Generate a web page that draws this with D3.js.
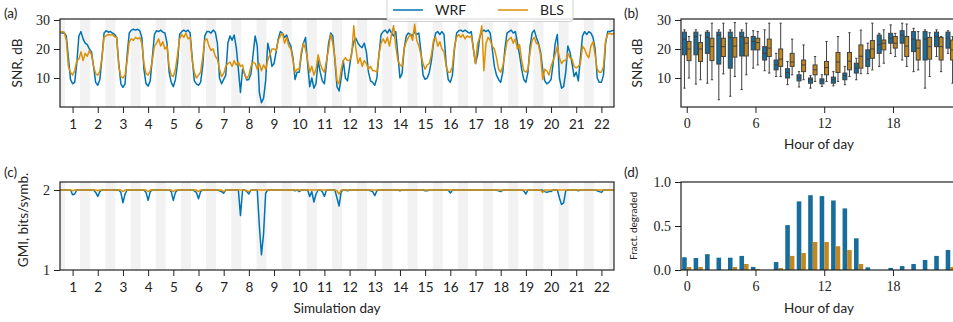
<!DOCTYPE html>
<html>
<head>
<meta charset="utf-8">
<script src="https://cdn.jsdelivr.net/npm/d3@7"></script>
<style>
  body { margin: 0; background: #fff; }
  svg text { font-family: Lato, "DejaVu Sans", sans-serif; fill: #222; }
  .serif text { font-family: "Liberation Serif", "DejaVu Serif", serif; }
</style>
</head>
<body>
<svg id="fig" width="953" height="322"></svg>
<script>
// ---- data -------------------------------------------------------------
// SNR time series, one value every 2 h starting at day 0.5 (tick = noon)
const tStart = 0.5;
const tStep = 1 / 12;

const snrWrf = [
  25.8, 25.5, 25.6, 24.5, 17, 9.5,
  8, 8.5, 15, 24.5, 26, 23.5, 22, 21.5, 20, 19, 14, 8.5,
  7.5, 9.5, 17, 25.5, 26.3, 25.8, 26, 25.5, 25, 24, 15, 8,
  6.8, 8, 18, 25.5, 26.5, 26.8, 26.5, 26.8, 26.3, 24, 13, 8,
  7.2, 9, 17, 25, 26.3, 26, 26.5, 25.8, 25.5, 22, 12, 8.5,
  7, 9.5, 15, 25, 26, 26.5, 26, 26.5, 25.5, 17, 9, 8,
  7.5, 8.5, 14, 24.5, 26, 26, 25.5, 26.5, 25.8, 22, 10, 8,
  9.5, 11, 22, 24.5, 23, 24.8, 20.5, 13, 5, 13, 11.5, 9.3,
  9.5, 11.5, 18, 24.5, 21, 5, 1.5, 3, 9, 22, 19, 14,
  15, 19, 23.5, 26, 25.5, 24, 24.8, 22.5, 21, 17, 9.5, 12,
  12, 18, 22, 24, 15, 7, 10, 6.5, 8, 16, 12, 9,
  8, 15, 22, 25.5, 24.5, 16, 7, 5.5, 10, 16, 10, 9,
  14, 19, 22.5, 23.7, 22, 21, 20.5, 22, 19, 12, 9, 8.5,
  7.5, 10, 18, 25, 26, 26.5, 25.5, 26.8, 25.5, 24.5, 26, 18,
  10, 11.5, 20, 24.5, 25.5, 25, 24.5, 26, 25, 25.5, 19, 11,
  9.5, 10, 12, 16, 22, 25.5, 26, 25, 26, 25, 15, 9.5,
  8.5, 11, 20, 25.5, 26.3, 26.5, 26, 26.5, 26, 25.5, 26, 20,
  15, 18, 24, 26, 26.5, 26, 26.5, 25.5, 20, 14, 11, 9.5,
  8.5, 12, 20, 25.5, 26, 26.5, 25.5, 26, 22, 18, 13, 9.5,
  8.5, 12, 21, 25.5, 26.5, 24, 22, 19, 13, 9, 8, 8.5,
  9.5, 15, 22, 25, 10, 6.5, 7, 12, 21, 19, 15, 10.5,
  12, 9, 17, 24.5, 26, 25, 26, 25.5, 24, 20, 10, 8.5,
  8.5, 11, 22, 26, 26, 26.3, 26.5
];

const snrBls = [
  25.6, 26, 25.8, 23, 14, 12,
  11, 12.5, 16, 16.5, 19, 16, 18.5, 17.5, 19.5, 18, 14, 11.5,
  11, 12.5, 17, 24, 24.5, 25, 24.8, 25, 24.2, 24, 14, 10.5,
  10, 11, 16, 22.5, 23.5, 23, 24, 23.5, 24, 22, 15, 11.5,
  11, 12.5, 16, 21, 22, 23.5, 21, 22.5, 20, 21, 14, 11,
  10.5, 13, 18, 23.5, 25, 24, 25.5, 23.5, 24, 16, 12, 10,
  11, 12, 17, 23, 23.5, 21, 19.5, 20, 17.5, 16.5, 13, 10.5,
  11.5, 14, 15, 15.5, 14, 16, 14.5, 15.5, 14, 14.5, 11, 9.8,
  11, 14, 15.5, 15, 13, 15, 12.5, 14.5, 13, 16, 18, 20,
  20, 19.5, 23, 24.5, 25.5, 22, 24, 21, 20, 16, 12, 13,
  13, 19, 22, 20, 16, 12, 14, 11, 13, 18, 15, 13,
  12, 16, 20, 25, 22, 17, 9, 8, 13, 16, 17, 16,
  16, 18, 28, 20, 15, 17, 14, 16, 15, 13, 14, 12.5,
  12.5, 12, 18, 22, 23.5, 22, 24, 21, 25, 28, 21, 16,
  14.5, 14, 20, 22.5, 24, 25, 23, 28.5, 23, 21, 18, 15,
  13, 14.5, 15, 18, 23, 24, 21, 22.5, 20, 19, 14, 12,
  12, 14, 21, 24, 25, 24, 25, 23.5, 24.5, 24, 24.5, 20,
  15, 22, 24, 28, 12.5, 22, 24, 23, 21, 20, 17, 13,
  12, 14, 18, 22.5, 23.5, 24, 22, 23.5, 20, 21.5, 16, 12.5,
  12, 13, 19, 23, 24, 22, 21.5, 18, 9.5, 13, 12.5, 11,
  14, 16, 18, 21, 17, 15, 16, 16, 18.5, 17, 16.5, 14,
  13.5, 14, 15, 21, 20, 18, 17, 21, 22.5, 18, 13, 12,
  12, 14, 23, 25, 25.5, 25, 25.5
];

// GMI, same time grid
const gmiWrf = [
  2, 2, 2, 2, 2, 2,
  1.94, 1.95, 2, 2, 2, 2, 2, 2, 2, 2, 2, 1.97,
  1.92, 1.98, 2, 2, 2, 2, 2, 2, 2, 2, 2, 1.97,
  1.84, 1.95, 2, 2, 2, 2, 2, 2, 2, 2, 2, 1.97,
  1.87, 1.98, 2, 2, 2, 2, 2, 2, 2, 2, 2, 1.98,
  1.87, 1.97, 2, 2, 2, 2, 2, 2, 2, 2, 1.99, 1.97,
  1.89, 1.98, 2, 2, 2, 2, 2, 2, 2, 2, 1.99, 1.98,
  1.96, 2, 2, 2, 2, 2, 2, 2, 1.68, 2, 2, 1.98,
  1.95, 2, 2, 2, 2, 1.55, 1.19, 1.45, 1.96, 2, 2, 2,
  2, 2, 2, 2, 2, 2, 2, 2, 2, 2, 1.99, 2,
  1.98, 2, 2, 2, 2, 1.92, 1.98, 1.85, 1.95, 2, 2, 1.98,
  1.92, 2, 2, 2, 2, 2, 1.9, 1.8, 1.98, 2, 2, 1.99,
  2, 2, 2, 2, 2, 2, 2, 2, 2, 2, 1.99, 1.98,
  1.93, 1.99, 2, 2, 2, 2, 2, 2, 2, 2, 2, 2,
  1.99, 2, 2, 2, 2, 2, 2, 2, 2, 2, 2, 2,
  1.99, 1.99, 2, 2, 2, 2, 2, 2, 2, 2, 2, 2,
  1.96, 2, 2, 2, 2, 2, 2, 2, 2, 2, 2, 2,
  2, 2, 2, 2, 2, 2, 2, 2, 2, 2, 2, 1.99,
  1.98, 2, 2, 2, 2, 2, 2, 2, 2, 2, 2, 1.99,
  1.95, 2, 2, 2, 2, 2, 2, 2, 2, 1.98, 1.97, 1.98,
  1.98, 2, 2, 2, 1.9, 1.82, 1.84, 1.99, 2, 2, 2, 2,
  2, 1.99, 2, 2, 2, 2, 2, 2, 2, 2, 1.99, 1.98,
  1.97, 2, 2, 2, 2, 2, 2
];

const gmiBls = [
  2, 2, 2, 2, 2, 2,
  1.99, 2, 2, 2, 2, 2, 2, 2, 2, 2, 2, 2,
  1.99, 2, 2, 2, 2, 2, 2, 2, 2, 2, 2, 2,
  1.98, 2, 2, 2, 2, 2, 2, 2, 2, 2, 2, 2,
  1.98, 2, 2, 2, 2, 2, 2, 2, 2, 2, 2, 2,
  1.98, 2, 2, 2, 2, 2, 2, 2, 2, 2, 2, 2,
  1.98, 2, 2, 2, 2, 2, 2, 2, 2, 2, 2, 2,
  1.98, 2, 2, 2, 2, 2, 2, 2, 2, 2, 2, 1.99,
  1.98, 2, 2, 2, 2, 2, 2, 2, 2, 2, 2, 2,
  2, 2, 2, 2, 2, 2, 2, 2, 2, 2, 2, 2,
  2, 2, 2, 2, 2, 2, 2, 2, 2, 2, 2, 2,
  2, 2, 2, 2, 2, 2, 1.99, 1.95, 2, 2, 2, 2,
  2, 2, 2, 2, 2, 2, 2, 2, 2, 2, 2, 2,
  2, 2, 2, 2, 2, 2, 2, 2, 2, 2, 2, 2,
  2, 2, 2, 2, 2, 2, 2, 2, 2, 2, 2, 2,
  2, 2, 2, 2, 2, 2, 2, 2, 2, 2, 2, 2,
  2, 2, 2, 2, 2, 2, 2, 2, 2, 2, 2, 2,
  2, 2, 2, 2, 2, 2, 2, 2, 2, 2, 2, 2,
  2, 2, 2, 2, 2, 2, 2, 2, 2, 2, 2, 2,
  2, 2, 2, 2, 2, 2, 2, 2, 1.97, 2, 2, 2,
  2, 2, 2, 2, 2, 2, 2, 2, 2, 2, 2, 2,
  2, 2, 2, 2, 2, 2, 2, 2, 2, 2, 2, 2,
  2, 2, 2, 2, 2, 2, 2
];

const dayTicks = d3.range(1, 23);
const hourTicks = [0, 6, 12, 18];
const hours = d3.range(0, 24);

// box plot stats per hour: lower whisker, q1, median, q3, upper whisker
const wrfLo  = [6.5, 7.9, 8.2, 2.5, 3.7, 6, 13.4, 12.5, 10.5, 7.7, 6.9, 6.5, 7.1, 7.3, 7.7, 9.4, 11.5, 14, 18.5, 16.2, 12.2, 6.5, 17.4, 18.5];
const wrfQ1  = [18, 18, 18.5, 14.8, 13.4, 17.6, 19.7, 16.2, 12.8, 10, 9, 8.2, 8, 8.2, 9.4, 11.7, 14, 18.5, 22, 22, 19.1, 16.2, 20.8, 20.3];
const wrfMed = [23.4, 24.3, 24, 24.8, 24, 24.3, 22.6, 18.5, 14.5, 11.9, 10.1, 9.4, 9, 9.4, 10.8, 13.4, 16.5, 21.5, 23.7, 24.8, 23.4, 23.4, 24.3, 23.7];
const wrfQ3  = [25.8, 25.8, 25.8, 25.8, 25.8, 25.8, 24.3, 20.8, 16.2, 13.2, 11.1, 10, 9.7, 10.3, 11.7, 15.1, 19.7, 24.8, 25.4, 26.3, 26, 26, 25.8, 25.8];
const wrfHi  = [26.6, 26.6, 26.3, 26.6, 26.6, 26.6, 26.3, 26.6, 18.5, 15.7, 12.2, 10.8, 11.1, 12.2, 14, 16.8, 22, 25.4, 28.3, 28.9, 27.1, 26.6, 26.6, 26.3];

const blsLo  = [10, 9.4, 9.4, 11.4, 10.5, 11.1, 14.5, 11.7, 10.5, 11.1, 9.4, 8.8, 8.8, 8.8, 10.5, 11.5, 12.8, 15.1, 17.4, 14, 12.8, 10.5, 12.2, 8.2];
const blsQ1  = [16, 15.7, 16, 17.4, 17.2, 17.6, 19.7, 17.4, 14, 14, 12.2, 11.1, 11.1, 11.9, 12.8, 13.4, 16.8, 19.7, 20.3, 17.4, 16.2, 16.5, 16.2, 16.2];
const blsMed = [20, 20, 20.8, 20.8, 21, 22, 22.2, 20.3, 16.5, 15.5, 14.5, 12.8, 13.6, 15.5, 15.8, 17.5, 20, 22, 22, 21, 20.3, 20.8, 20.8, 19.7];
const blsQ3  = [22.6, 22.2, 23.7, 23.7, 23.9, 24, 23.7, 23.4, 20, 18.5, 16.2, 14.5, 15.7, 18.8, 18.8, 21.4, 22.9, 23.1, 24.3, 24.3, 23.1, 24, 24, 23.1];
const blsHi  = [24.3, 24.8, 28.9, 28.9, 29.1, 28.9, 26, 28.9, 28.9, 23.4, 21.4, 17.4, 22.6, 24.3, 25.6, 26.5, 28.9, 26.6, 25.4, 28.6, 26, 25.6, 24.3, 24.3];

// fraction of time degraded, per hour
const degWrf = [0.145, 0.136, 0.18, 0.14, 0.14, 0.16, 0.035, 0, 0.09, 0.51, 0.78, 0.85, 0.84, 0.79, 0.70, 0.36, 0.03, 0, 0.024, 0.045, 0.068, 0.114, 0.16, 0.227];
const degBls = [0.034, 0.034, 0, 0, 0.034, 0.068, 0.011, 0, 0.023, 0.16, 0.193, 0.318, 0.318, 0.27, 0.227, 0.068, 0, 0, 0, 0, 0, 0, 0, 0.034];

// ---- style ------------------------------------------------------------
const cWrf = "#0173b2", cBls = "#de8f05";
const cWrfBox = "#176d9b", cBlsBox = "#c38720";
const axisCol = "#222";
const edgeCol = "#3f3f3f";

const svg = d3.select("#fig");

// panel boxes
const L = { x0: 60, x1: 614 };
const R = { x0: 681, x1: 956 };
const T = { y0: 19, y1: 107 };
const B = { y0: 182, y1: 270 };

const xDay = d3.scaleLinear().domain([0.5, 22.5]).range([L.x0, L.x1]);
const xHour = d3.scaleLinear().domain([-0.5, 23.5]).range([R.x0, R.x1]);
const ySnr = d3.scaleLinear().domain([0, 30.34]).range([T.y1, T.y0]);
const yGmi = d3.scaleLinear().domain([1, 2.1]).range([B.y1, B.y0]);
const yDeg = d3.scaleLinear().domain([0, 1]).range([B.y1, B.y0]);

const tOf = i => tStart + i * tStep;

function styleAxis(g) {
  g.select(".domain").remove();
  g.selectAll(".tick line").attr("stroke", axisCol).attr("stroke-width", 1);
  g.selectAll(".tick text").attr("fill", "#222");
}

function frame(x0, x1, y0, y1) {
  svg.append("rect")
    .attr("x", x0).attr("y", y0)
    .attr("width", x1 - x0).attr("height", y1 - y0)
    .attr("fill", "none").attr("stroke", axisCol).attr("stroke-width", 1.2);
}

function clip(id, x0, x1, y0, y1) {
  svg.append("clipPath").attr("id", id)
    .append("rect").attr("x", x0).attr("y", y0).attr("width", x1 - x0).attr("height", y1 - y0);
}

// night stripes in the time panels
function stripes(y0, y1) {
  svg.append("g")
    .selectAll("rect")
    .data(d3.range(0, 23))
    .join("rect")
    .attr("x", d => Math.max(L.x0, xDay(d + 0.3)))
    .attr("width", d => Math.min(L.x1, xDay(d + 0.7)) - Math.max(L.x0, xDay(d + 0.3)))
    .attr("y", y0).attr("height", y1 - y0)
    .attr("fill", "#f2f2f2");
}

// ---- (a) SNR time series ----------------------------------------------
clip("clipA", L.x0, L.x1, T.y0, T.y1);
stripes(T.y0, T.y1);

const lineA = d3.line().x((d, i) => xDay(tOf(i))).y(d => ySnr(d));
const gA = svg.append("g").attr("clip-path", "url(#clipA)");
gA.append("path").attr("d", lineA(snrWrf))
  .attr("fill", "none").attr("stroke", cWrf).attr("stroke-width", 1.5).attr("stroke-linejoin", "round");
gA.append("path").attr("d", lineA(snrBls))
  .attr("fill", "none").attr("stroke", cBls).attr("stroke-width", 1.5).attr("stroke-linejoin", "round");

frame(L.x0, L.x1, T.y0, T.y1);

svg.append("g").attr("transform", `translate(0,${T.y1})`)
  .call(d3.axisBottom(xDay).tickValues(dayTicks).tickSize(6).tickPadding(6))
  .call(styleAxis)
  .selectAll("text").attr("font-size", 13.5);

svg.append("g").attr("class", "serif").attr("transform", `translate(${L.x0},0)`)
  .call(d3.axisLeft(ySnr).tickValues([10, 20, 30]).tickSize(6).tickPadding(4))
  .call(styleAxis)
  .selectAll("text").attr("font-size", 14);

// ---- (c) GMI time series ----------------------------------------------
clip("clipC", L.x0, L.x1, B.y0, B.y1);
stripes(B.y0, B.y1);

const lineC = d3.line().x((d, i) => xDay(tOf(i))).y(d => yGmi(d));
const gC = svg.append("g").attr("clip-path", "url(#clipC)");
gC.append("path").attr("d", lineC(gmiWrf))
  .attr("fill", "none").attr("stroke", cWrf).attr("stroke-width", 1.5).attr("stroke-linejoin", "round");
gC.append("path").attr("d", lineC(gmiBls))
  .attr("fill", "none").attr("stroke", cBls).attr("stroke-width", 1.5).attr("stroke-linejoin", "round");

frame(L.x0, L.x1, B.y0, B.y1);

svg.append("g").attr("transform", `translate(0,${B.y1})`)
  .call(d3.axisBottom(xDay).tickValues(dayTicks).tickSize(6).tickPadding(6))
  .call(styleAxis)
  .selectAll("text").attr("font-size", 13.5);

svg.append("g").attr("class", "serif").attr("transform", `translate(${L.x0},0)`)
  .call(d3.axisLeft(yGmi).tickValues([1, 2]).tickFormat(d3.format("d")).tickSize(6).tickPadding(4))
  .call(styleAxis)
  .selectAll("text").attr("font-size", 14);

// ---- (b) box plots by hour --------------------------------------------
const boxW = 0.4;
function boxes(lo, q1, med, q3, hi, off, fill) {
  const g = svg.append("g");
  const cx = h => xHour(h + off);
  const half = (xHour(boxW) - xHour(0)) / 2;
  const item = g.selectAll("g").data(hours).join("g");
  // whiskers
  item.append("line").attr("x1", cx).attr("x2", cx)
    .attr("y1", h => ySnr(hi[h])).attr("y2", h => ySnr(q3[h]))
    .attr("stroke", edgeCol).attr("stroke-width", 1);
  item.append("line").attr("x1", cx).attr("x2", cx)
    .attr("y1", h => ySnr(q1[h])).attr("y2", h => ySnr(lo[h]))
    .attr("stroke", edgeCol).attr("stroke-width", 1);
  // caps
  item.append("line").attr("x1", h => cx(h) - half / 2).attr("x2", h => cx(h) + half / 2)
    .attr("y1", h => ySnr(hi[h])).attr("y2", h => ySnr(hi[h]))
    .attr("stroke", edgeCol).attr("stroke-width", 1);
  item.append("line").attr("x1", h => cx(h) - half / 2).attr("x2", h => cx(h) + half / 2)
    .attr("y1", h => ySnr(lo[h])).attr("y2", h => ySnr(lo[h]))
    .attr("stroke", edgeCol).attr("stroke-width", 1);
  // box
  item.append("rect")
    .attr("x", h => cx(h) - half + 0.3).attr("width", 2 * half - 0.6)
    .attr("y", h => ySnr(q3[h])).attr("height", h => ySnr(q1[h]) - ySnr(q3[h]))
    .attr("fill", fill).attr("stroke", edgeCol).attr("stroke-width", 1);
  // median
  item.append("line").attr("x1", h => cx(h) - half + 0.3).attr("x2", h => cx(h) + half - 0.3)
    .attr("y1", h => ySnr(med[h])).attr("y2", h => ySnr(med[h]))
    .attr("stroke", edgeCol).attr("stroke-width", 1);
}
boxes(wrfLo, wrfQ1, wrfMed, wrfQ3, wrfHi, -0.2, cWrfBox);
boxes(blsLo, blsQ1, blsMed, blsQ3, blsHi, 0.2, cBlsBox);

frame(R.x0, R.x1, T.y0, T.y1);

svg.append("g").attr("class", "serif").attr("transform", `translate(0,${T.y1})`)
  .call(d3.axisBottom(xHour).tickValues(hourTicks).tickSize(6).tickPadding(5))
  .call(styleAxis)
  .selectAll("text").attr("font-size", 14);

svg.append("g").attr("class", "serif").attr("transform", `translate(${R.x0},0)`)
  .call(d3.axisLeft(ySnr).tickValues([10, 20, 30]).tickSize(6).tickPadding(4))
  .call(styleAxis)
  .selectAll("text").attr("font-size", 14);

// ---- (d) fraction degraded bars ---------------------------------------
function bars(vals, off, fill) {
  svg.append("g").selectAll("rect").data(hours).join("rect")
    .attr("x", h => xHour(h + off - boxW / 2))
    .attr("width", xHour(boxW) - xHour(0))
    .attr("y", h => yDeg(vals[h]))
    .attr("height", h => yDeg(0) - yDeg(vals[h]))
    .attr("fill", fill);
}
bars(degWrf, -0.2, cWrfBox);
bars(degBls, 0.2, cBlsBox);

frame(R.x0, R.x1, B.y0, B.y1);

svg.append("g").attr("class", "serif").attr("transform", `translate(0,${B.y1})`)
  .call(d3.axisBottom(xHour).tickValues(hourTicks).tickSize(6).tickPadding(5))
  .call(styleAxis)
  .selectAll("text").attr("font-size", 14);

svg.append("g").attr("class", "serif").attr("transform", `translate(${R.x0},0)`)
  .call(d3.axisLeft(yDeg).tickValues([0, 0.5, 1]).tickFormat(d3.format(".1f")).tickSize(6).tickPadding(4))
  .call(styleAxis)
  .selectAll("text").attr("font-size", 14);

// ---- labels -----------------------------------------------------------
function label(txt, x, y, size, rot) {
  const t = svg.append("text").text(txt).attr("font-size", size);
  if (rot) t.attr("transform", `translate(${x},${y}) rotate(-90)`).attr("text-anchor", "middle");
  else t.attr("x", x).attr("y", y);
  return t;
}
label("(a)", 4, 18, 13.5);
label("(b)", 624, 18, 13.5);
label("(c)", 4, 177, 13.5);
label("(d)", 624, 177, 13.5);

label("SNR, dB", 22, 63, 13.5, true);
label("GMI, bits/symb.", 28, 220, 13.5, true);
label("SNR, dB", 642, 63, 13.5, true);
label("Fract. degraded", 637, 226, 10, true);

label("Simulation day", 337, 313, 13.5).attr("text-anchor", "middle");
label("Hour of day", 819, 149, 13.5).attr("text-anchor", "middle");
label("Hour of day", 819, 313, 13.5).attr("text-anchor", "middle");

// ---- legend -----------------------------------------------------------
const series = [
  { name: "WRF", color: cWrf, x: 393 },
  { name: "BLS", color: cBls, x: 498 }
];
const leg = svg.append("g");
leg.append("rect").attr("x", 387).attr("y", -6).attr("width", 186).attr("height", 27.5)
  .attr("rx", 3).attr("fill", "#fff").attr("fill-opacity", 0.85)
  .attr("stroke", "#d0d0d0").attr("stroke-width", 1);
const li = leg.selectAll("g.item").data(series).join("g").attr("class", "item");
li.append("line").attr("x1", d => d.x).attr("x2", d => d.x + 30)
  .attr("y1", 10).attr("y2", 10).attr("stroke", d => d.color).attr("stroke-width", 1.5);
li.append("text").attr("x", d => d.x + 42).attr("y", 15).attr("font-size", 14).text(d => d.name);
</script>
</body>
</html>
